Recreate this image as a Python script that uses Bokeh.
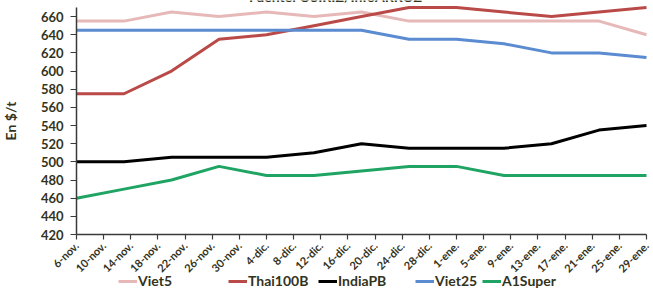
import pandas as pd
from math import pi
from bokeh.plotting import figure
from bokeh.models import FixedTicker, Legend, LegendItem, Range1d, Label
from bokeh.embed import file_html
from bokeh.resources import INLINE

# ---- data ----
title_text = "Fuente: OSIRIZ/InfoARROZ"
dates = ["2023-11-06", "2023-11-13", "2023-11-20", "2023-11-27", "2023-12-04",
         "2023-12-11", "2023-12-18", "2023-12-25", "2024-01-01", "2024-01-08",
         "2024-01-15", "2024-01-22", "2024-01-29"]
viet5 = [655, 655, 665, 660, 665, 660, 665, 655, 655, 655, 655, 655, 640]
thai100b = [575, 575, 600, 635, 640, 650, 660, 670, 670, 665, 660, 665, 670]
indiapb = [500, 500, 505, 505, 505, 510, 520, 515, 515, 515, 520, 535, 540]
viet25 = [645, 645, 645, 645, 645, 645, 645, 635, 635, 630, 620, 620, 615]
a1super = [460, 470, 480, 495, 485, 485, 490, 495, 495, 485, 485, 485, 485]

tick_dates = ["2023-11-06", "2023-11-10", "2023-11-14", "2023-11-18", "2023-11-22",
              "2023-11-26", "2023-11-30", "2023-12-04", "2023-12-08", "2023-12-12",
              "2023-12-16", "2023-12-20", "2023-12-24", "2023-12-28", "2024-01-01",
              "2024-01-05", "2024-01-09", "2024-01-13", "2024-01-17", "2024-01-21",
              "2024-01-25", "2024-01-29"]
tick_labels = ["6-nov.", "10-nov.", "14-nov.", "18-nov.", "22-nov.", "26-nov.",
               "30-nov.", "4-dic.", "8-dic.", "12-dic.", "16-dic.", "20-dic.",
               "24-dic.", "28-dic.", "1-ene.", "5-ene.", "9-ene.", "13-ene.",
               "17-ene.", "21-ene.", "25-ene.", "29-ene."]
y_ticks = [420, 440, 460, 480, 500, 520, 540, 560, 580, 600, 620, 640, 660]
y_min, y_max = 420, 670

series_names = ["Viet5", "Thai100B", "IndiaPB", "Viet25", "A1Super"]
series_vals = [viet5, thai100b, indiapb, viet25, a1super]
colors = ["#e6b9b8", "#b94a48", "#000000", "#5b8bd0", "#1fa463"]

# ---- derived positions ----
t0 = pd.to_datetime(dates[0])
x = [(pd.to_datetime(d) - t0).days for d in dates]
tx = [(pd.to_datetime(d) - t0).days for d in tick_dates]
x_min, x_max = min(x), max(x)

FONT = "Lato"
TXT = "#33331c"

# layout in pixels: the frame covers the whole canvas, axes are fixed inside it
W, H = 653, 295
PL, PR = 76, 7        # space left / right of the plotted area
PT, PB = 7, 61        # space above / below the plotted area
sx = (x_max - x_min) / (W - PL - PR)
sy = (y_max - y_min) / (H - PT - PB)

p = figure(width=W, height=H, output_backend="svg", toolbar_location=None,
           x_range=Range1d(x_min - PL * sx, x_max + PR * sx),
           y_range=Range1d(y_min - PB * sy, y_max + PT * sy),
           min_border_left=0, min_border_right=0, min_border_top=0,
           min_border_bottom=0, outline_line_color=None)
p.grid.visible = False

renderers = []
for name, vals, c in zip(series_names, series_vals, colors):
    r = p.line(x, vals, line_color=c, line_width=3)
    renderers.append(r)

# axes (fixed inside the frame)
p.xaxis.fixed_location = y_min
p.xaxis.bounds = (x_min, x_max)
p.xaxis.ticker = FixedTicker(ticks=tx)
p.xaxis.major_label_overrides = {t: l for t, l in zip(tx, tick_labels)}
p.xaxis.major_label_orientation = pi / 4
p.xaxis.major_label_text_font_size = "11px"
p.yaxis.fixed_location = x_min
p.yaxis.bounds = (y_min, y_max)
p.yaxis.ticker = FixedTicker(ticks=y_ticks)
p.yaxis.major_label_text_font_size = "13px"
p.yaxis.axis_label = "En $/t"
p.yaxis.axis_label_text_font_size = "14px"
p.yaxis.axis_label_text_font_style = "bold"
p.yaxis.axis_label_text_font = FONT
p.yaxis.axis_label_text_color = TXT
p.yaxis.axis_label_standoff = 19
for ax in (p.xaxis, p.yaxis):
    ax.major_label_text_font = FONT
    ax.major_label_text_font_style = "bold"
    ax.major_label_text_color = TXT
    ax.axis_line_color = "#3a3a3a"
    ax.axis_line_width = 1.5
    ax.major_tick_line_color = "#3a3a3a"
    ax.major_tick_line_width = 1.2
    ax.major_tick_in = 0
    ax.major_tick_out = 5
    ax.minor_tick_line_color = None
p.yaxis.major_tick_out = 6
p.yaxis.major_label_standoff = 7
p.xaxis.major_label_standoff = 4

# title, cut at the top edge as in the source
p.add_layout(Label(x=335, y=H - 4, x_units="screen", y_units="screen",
                   text=title_text, text_align="center",
                   text_baseline="bottom", text_font=FONT,
                   text_font_style="bold", text_font_size="14px",
                   text_color=TXT))

# legends: one per entry, placed under the axis labels
leg_x = [118, 228, 318, 415, 482]
for name, r, lx in zip(series_names, renderers, leg_x):
    lg = Legend(items=[LegendItem(label=name, renderers=[r])],
                location=(lx, 6), orientation="horizontal",
                padding=0, margin=0, spacing=0,
                glyph_width=19, glyph_height=14, label_height=14,
                label_standoff=1, label_text_font=FONT,
                label_text_font_style="bold", label_text_font_size="14px",
                label_text_color=TXT, border_line_alpha=0,
                background_fill_alpha=0)
    p.add_layout(lg, "center")

open("out.html", "w").write(file_html(p, INLINE))
